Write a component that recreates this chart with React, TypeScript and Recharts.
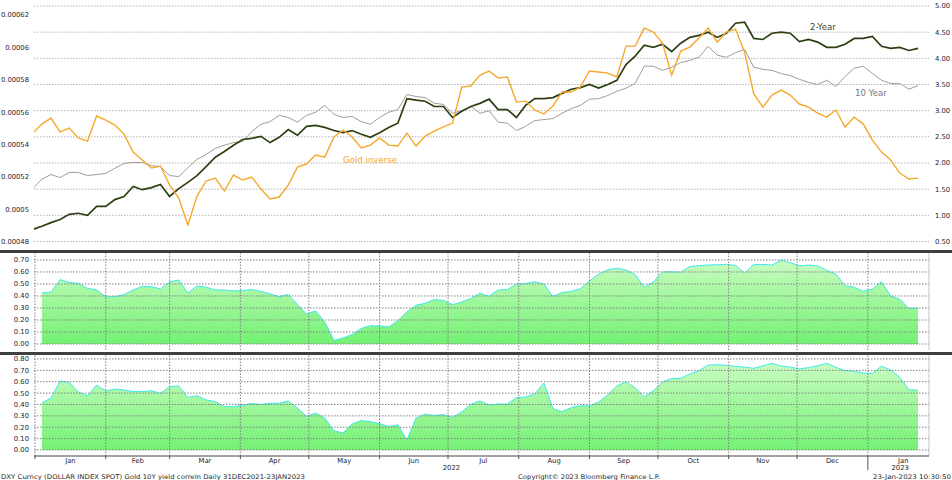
import React from 'react';
import { LineChart, Line, AreaChart, Area, XAxis, YAxis, CartesianGrid, ReferenceLine } from 'recharts';

const FONT = '"DejaVu Sans", Verdana, sans-serif';
const DAY_MS = 86400000;
const BASE = Date.UTC(2022, 0, 1);

// observations every 4th calendar day, 31 Dec 2021 .. 23 Jan 2023 (day 0 = 1 Jan 2022)
const obsDays = Array.from({ length: 98 }, (_, k) => -1 + 4 * k);

// Gold inverse (1 / gold price), left axis
const goldInverse = [
  0.000547, 0.0005526, 0.0005563, 0.0005477, 0.0005501, 0.000544, 0.0005421, 0.0005576, 0.0005551, 0.000552,
  0.0005464, 0.0005353, 0.0005304, 0.0005254, 0.0005267, 0.0005149, 0.0005069, 0.0004902, 0.0005081, 0.0005174,
  0.0005192, 0.0005112, 0.0005211, 0.000518, 0.0005199, 0.0005124, 0.0005063, 0.0005075, 0.0005149, 0.000526,
  0.0005279, 0.0005335, 0.0005322, 0.0005446, 0.0005489, 0.0005446, 0.0005378, 0.0005396, 0.000544, 0.0005396,
  0.000539, 0.000547, 0.000539, 0.0005452, 0.0005483, 0.0005508, 0.0005532, 0.0005755, 0.0005761, 0.0005829,
  0.0005854, 0.000581, 0.0005817, 0.0005662, 0.0005668, 0.0005613, 0.0005588, 0.0005637, 0.0005724, 0.0005724,
  0.0005755, 0.0005854, 0.0005848, 0.0005841, 0.0005817, 0.0006008, 0.0006008, 0.0006119, 0.0006095, 0.0006027,
  0.0005829, 0.0005977, 0.0006002, 0.0006058, 0.0006119, 0.0006033, 0.0006095, 0.0006113, 0.0005971, 0.0005712,
  0.0005631, 0.0005705, 0.0005736, 0.0005705, 0.000565, 0.0005631, 0.0005594, 0.0005569, 0.0005613, 0.0005508,
  0.0005569, 0.0005526, 0.0005427, 0.0005353, 0.0005304, 0.0005223, 0.0005186, 0.0005192,
];

// 2-Year yield, right axis
const twoYear = [
  0.73, 0.79, 0.86, 0.92, 1.02, 1.04, 1.0, 1.17, 1.17, 1.3,
  1.36, 1.55, 1.49, 1.53, 1.59, 1.36, 1.51, 1.63, 1.76, 1.93,
  2.11, 2.22, 2.34, 2.45, 2.47, 2.51, 2.39, 2.49, 2.64, 2.53,
  2.7, 2.72, 2.68, 2.62, 2.58, 2.62, 2.55, 2.49, 2.58, 2.68,
  2.76, 3.23, 3.2, 3.18, 3.08, 3.08, 2.87, 2.99, 3.08, 3.14,
  3.22, 3.02, 3.02, 2.87, 3.1, 3.23, 3.23, 3.25, 3.33, 3.41,
  3.44, 3.5, 3.43, 3.5, 3.58, 3.88, 4.04, 4.25, 4.21, 4.27,
  4.13, 4.29, 4.4, 4.44, 4.5, 4.4, 4.48, 4.67, 4.69, 4.38,
  4.36, 4.48, 4.5, 4.48, 4.32, 4.36, 4.31, 4.21, 4.21, 4.27,
  4.38, 4.38, 4.42, 4.23, 4.19, 4.21, 4.15, 4.19,
];

// 10 Year yield, right axis
const tenYear = [
  1.51, 1.69, 1.78, 1.72, 1.82, 1.82, 1.76, 1.78, 1.8, 1.9,
  1.99, 2.01, 2.01, 1.95, 1.93, 1.76, 1.74, 1.91, 2.07, 2.16,
  2.28, 2.34, 2.39, 2.41, 2.6, 2.74, 2.79, 2.91, 2.87, 2.78,
  2.91, 2.97, 3.1, 2.93, 2.87, 2.89, 2.79, 2.74, 2.87, 2.97,
  3.02, 3.31, 3.27, 3.25, 3.14, 3.12, 2.95, 3.0, 3.08, 2.95,
  3.0, 2.78, 2.76, 2.62, 2.7, 2.81, 2.83, 2.85, 2.95, 3.04,
  3.1, 3.22, 3.23, 3.29, 3.37, 3.43, 3.52, 3.85, 3.85, 3.77,
  3.83, 3.92, 3.96, 4.02, 4.23, 4.06, 4.02, 4.11, 4.17, 3.83,
  3.79, 3.77, 3.71, 3.67, 3.6, 3.54, 3.5, 3.58, 3.46, 3.65,
  3.81, 3.85, 3.71, 3.58, 3.52, 3.52, 3.41, 3.48,
];

// correlation, middle panel
const corrUpper = [
  null, 0.425, 0.433, 0.536, 0.513, 0.504, 0.464, 0.45, 0.393, 0.394,
  0.411, 0.45, 0.479, 0.478, 0.458, 0.517, 0.533, 0.425, 0.483, 0.473,
  0.45, 0.45, 0.443, 0.445, 0.454, 0.438, 0.418, 0.394, 0.413, 0.329,
  0.25, 0.275, 0.183, 0.03, 0.05, 0.079, 0.129, 0.153, 0.15, 0.142,
  0.194, 0.267, 0.323, 0.339, 0.371, 0.363, 0.327, 0.35, 0.379, 0.423,
  0.398, 0.45, 0.454, 0.498, 0.504, 0.518, 0.5, 0.396, 0.429, 0.438,
  0.461, 0.525, 0.581, 0.619, 0.631, 0.617, 0.579, 0.475, 0.517, 0.6,
  0.601, 0.598, 0.645, 0.653, 0.658, 0.66, 0.664, 0.653, 0.592, 0.663,
  0.662, 0.658, 0.698, 0.677, 0.651, 0.658, 0.65, 0.613, 0.583, 0.486,
  0.472, 0.44, 0.458, 0.519, 0.4, 0.373, 0.296, 0.298,
];

// correlation, bottom panel
const corrLower = [
  null, 0.413, 0.457, 0.607, 0.594, 0.51, 0.475, 0.571, 0.519, 0.536,
  0.527, 0.514, 0.513, 0.521, 0.498, 0.556, 0.563, 0.462, 0.477, 0.44,
  0.426, 0.381, 0.382, 0.393, 0.409, 0.4, 0.411, 0.411, 0.431, 0.369,
  0.295, 0.325, 0.281, 0.17, 0.149, 0.229, 0.259, 0.249, 0.232, 0.206,
  0.222, 0.088, 0.281, 0.315, 0.303, 0.312, 0.287, 0.334, 0.402, 0.431,
  0.396, 0.404, 0.404, 0.46, 0.466, 0.492, 0.589, 0.363, 0.338, 0.372,
  0.389, 0.387, 0.422, 0.484, 0.563, 0.599, 0.547, 0.468, 0.519, 0.6,
  0.628, 0.63, 0.668, 0.696, 0.747, 0.749, 0.744, 0.735, 0.729, 0.718,
  0.74, 0.761, 0.739, 0.728, 0.713, 0.724, 0.74, 0.762, 0.727, 0.697,
  0.694, 0.676, 0.674, 0.736, 0.703, 0.639, 0.53, 0.527,
];

const goldTicks = [0.00048, 0.0005, 0.00052, 0.00054, 0.00056, 0.00058, 0.0006, 0.00062];
const yieldTicks = [0.5, 1, 1.5, 2, 2.5, 3, 3.5, 4, 4.5, 5];
const corrUpperTicks = [0, 0.1, 0.2, 0.3, 0.4, 0.5, 0.6, 0.7];
const corrLowerTicks = [0, 0.1, 0.2, 0.3, 0.4, 0.5, 0.6, 0.7, 0.8];
const monthLabels = ['Jan', 'Feb', 'Mar', 'Apr', 'May', 'Jun', 'Jul', 'Aug', 'Sep', 'Oct', 'Nov', 'Dec', 'Jan'];
const monthStarts = monthLabels.map((_, i) => (Date.UTC(2022, i, 1) - BASE) / DAY_MS);

const rows = obsDays.map((day, i) => ({
  day,
  gold: goldInverse[i],
  twoYear: twoYear[i],
  tenYear: tenYear[i],
  corrUpper: corrUpper[i],
  corrLower: corrLower[i],
}));

// layout
const PLOT_L = 34;
const PLOT_R = 929;
const X_MIN = -0.44;
const X_MAX = 391.8;
const PX_PER_DAY = (PLOT_R - PLOT_L) / (X_MAX - X_MIN);

const tickStyle = { fontSize: 6.8, fill: '#1d2130', fontFamily: FONT };
const gridDot = '#808080';

function MonthTick(props: any) {
  const { x, y, payload } = props;
  const i = monthStarts.indexOf(payload.value);
  const next = (Date.UTC(2022, i + 1, 1) - BASE) / DAY_MS;
  const cx = x + ((next - payload.value) / 2) * PX_PER_DAY;
  return (
    <g>
      <line x1={x} y1={y} x2={x} y2={y + (i === 12 ? 14 : 3)} stroke="#555" strokeWidth={1} />
      <text x={cx} y={y + 6.5} textAnchor="middle" style={tickStyle}>{monthLabels[i]}</text>
      {i === 0 && (
        <text x={x + 182.5 * PX_PER_DAY} y={y + 14} textAnchor="middle" style={tickStyle}>2022</text>
      )}
      {i === 12 && (
        <text x={cx - 3} y={y + 14} textAnchor="middle" style={tickStyle}>2023</text>
      )}
    </g>
  );
}

function Gradient({ id }: { id: string }) {
  return (
    <defs>
      <linearGradient id={id} x1="0" y1="0" x2="0" y2="1">
        <stop offset="0%" stopColor="#c8fcc0" />
        <stop offset="100%" stopColor="#74f174" />
      </linearGradient>
    </defs>
  );
}

export default function App() {
  const labelText = { fontFamily: FONT, fontSize: 8.6 };
  const footText = { fontFamily: FONT, fontSize: 6.4, fill: '#2a2a2a' };
  return (
    <div style={{ position: 'absolute', left: 0, top: 0, width: 952, height: 480, background: '#fff' }}>
      {/* price / yield panel */}
      <div style={{ position: 'absolute', left: 0, top: 0 }}>
        <LineChart width={952} height={249} data={rows} margin={{ top: 6, right: 0, bottom: 7.5, left: 0 }}>
          <CartesianGrid yAxisId="yield" vertical={false} stroke="#b4b4b4" strokeDasharray="1.5 1.5" />
          <XAxis type="number" dataKey="day" domain={[X_MIN, X_MAX]} hide allowDataOverflow />
          <YAxis
            yAxisId="gold"
            orientation="left"
            width={PLOT_L}
            domain={[0.00048, 0.0006256]}
            ticks={goldTicks}
            interval={0}
            tickFormatter={(v: number) => String(v)}
            tick={tickStyle}
            tickSize={0}
            tickMargin={5}
            axisLine={false}
            tickLine={false}
            allowDataOverflow
          />
          <YAxis
            yAxisId="yield"
            orientation="right"
            width={952 - PLOT_R}
            domain={[0.5, 5]}
            ticks={yieldTicks}
            interval={0}
            tickFormatter={(v: number) => v.toFixed(2)}
            tick={{ ...tickStyle, textAnchor: 'start' }}
            tickSize={0}
            tickMargin={6}
            axisLine={false}
            tickLine={false}
            allowDataOverflow
          />
          <Line yAxisId="yield" type="linear" dataKey="tenYear" stroke="#a29b95" strokeWidth={1} dot={false} isAnimationActive={false} />
          <Line yAxisId="yield" type="linear" dataKey="twoYear" stroke="#2c3f12" strokeWidth={1.7} dot={false} isAnimationActive={false} />
          <Line yAxisId="gold" type="linear" dataKey="gold" stroke="#f5a82a" strokeWidth={1.4} dot={false} isAnimationActive={false} />
        </LineChart>
      </div>

      {/* middle correlation panel */}
      <div style={{ position: 'absolute', left: 0, top: 250 }}>
        <AreaChart width={952} height={101} data={rows} margin={{ top: 3, right: 952 - PLOT_R, bottom: 1, left: 0 }}>
          <Gradient id="greenUpper" />
          <XAxis type="number" dataKey="day" domain={[X_MIN, X_MAX]} hide allowDataOverflow />
          <YAxis
            width={PLOT_L}
            domain={[-0.05, 0.758]}
            ticks={corrUpperTicks}
            interval={0}
            tickFormatter={(v: number) => v.toFixed(2)}
            tick={tickStyle}
            tickSize={0}
            tickMargin={5}
            axisLine={false}
            tickLine={false}
            allowDataOverflow
          />
          <Area type="linear" dataKey="corrUpper" stroke="#3ceaf0" strokeWidth={1} fill="url(#greenUpper)" fillOpacity={1} isAnimationActive={false} />
          {corrUpperTicks.map((t) => (
            <ReferenceLine key={'h' + t} y={t} stroke={gridDot} strokeDasharray="1.5 1.5" />
          ))}
          {monthStarts.map((m) => (
            <ReferenceLine key={'v' + m} x={m} stroke={gridDot} strokeDasharray="1.5 1.5" />
          ))}
          <ReferenceLine x={X_MAX} stroke="#c4c4c4" />
        </AreaChart>
      </div>

      {/* bottom correlation panel with the date axis */}
      <div style={{ position: 'absolute', left: 0, top: 353 }}>
        <AreaChart width={952} height={120} data={rows} margin={{ top: 2, right: 952 - PLOT_R, bottom: 0, left: 0 }}>
          <Gradient id="greenLower" />
          <XAxis
            type="number"
            dataKey="day"
            domain={[X_MIN, X_MAX]}
            ticks={monthStarts}
            interval={0}
            height={17}
            tick={<MonthTick />}
            tickSize={0}
            tickMargin={0}
            tickLine={false}
            axisLine={{ stroke: '#444' }}
            allowDataOverflow
          />
          <YAxis
            width={PLOT_L}
            domain={[-0.053, 0.835]}
            ticks={corrLowerTicks}
            interval={0}
            tickFormatter={(v: number) => v.toFixed(2)}
            tick={tickStyle}
            tickSize={0}
            tickMargin={5}
            axisLine={false}
            tickLine={false}
            allowDataOverflow
          />
          <Area type="linear" dataKey="corrLower" stroke="#3ceaf0" strokeWidth={1} fill="url(#greenLower)" fillOpacity={1} isAnimationActive={false} />
          {corrLowerTicks.map((t) => (
            <ReferenceLine key={'h' + t} y={t} stroke={gridDot} strokeDasharray="1.5 1.5" />
          ))}
          {monthStarts.map((m) => (
            <ReferenceLine key={'v' + m} x={m} stroke={gridDot} strokeDasharray="1.5 1.5" />
          ))}
          <ReferenceLine x={X_MAX} stroke="#c4c4c4" />
        </AreaChart>
      </div>

      {/* panel separators, series labels and footer */}
      <svg width={952} height={480} style={{ position: 'absolute', left: 0, top: 0, pointerEvents: 'none' }}>
        <rect x={0} y={250} width={952} height={3} fill="#3f3f3f" />
        <rect x={0} y={352} width={952} height={3} fill="#3f3f3f" />
        <text x={810} y={30} style={{ ...labelText, fill: '#3b4a30' }}>2-Year</text>
        <text x={855} y={96} style={{ ...labelText, fill: '#7d7873' }}>10 Year</text>
        <text x={343} y={163} style={{ ...labelText, fill: '#f5a82a' }}>Gold inverse</text>
        <text x={1} y={478.5} style={footText} textLength={304} lengthAdjust="spacingAndGlyphs">
          DXY Curncy (DOLLAR INDEX SPOT) Gold 10Y yield correln  Daily 31DEC2021-23JAN2023
        </text>
        <text x={518} y={478.5} style={footText} textLength={142} lengthAdjust="spacingAndGlyphs">
          Copyright© 2023 Bloomberg Finance L.P.
        </text>
        <text x={873} y={478.5} style={footText} textLength={78} lengthAdjust="spacingAndGlyphs">
          23-Jan-2023 10:30:50
        </text>
      </svg>
    </div>
  );
}
